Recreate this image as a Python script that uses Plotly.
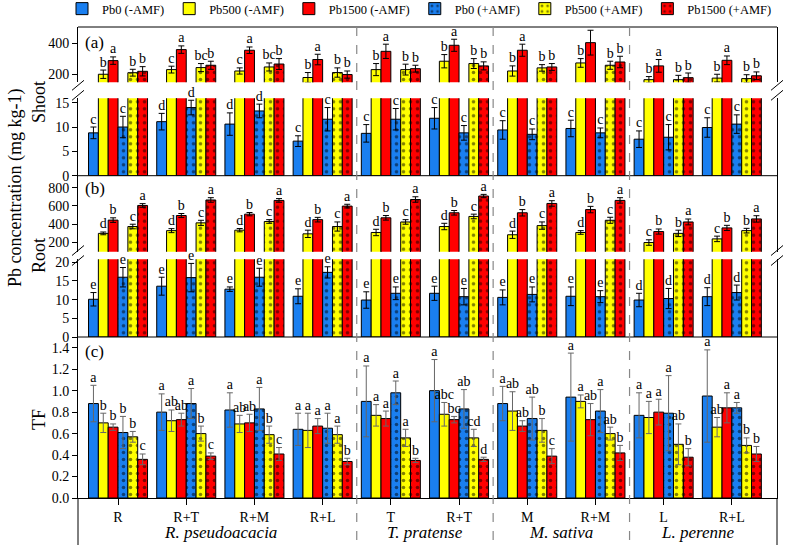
import plotly.graph_objects as go

# ---------------- data ----------------
groups = ["R", "R+T", "R+M", "R+L", "T", "R+T", "M", "R+M", "L", "R+L"]
species = ["<i>R. pseudoacacia</i>", "<i>T. pratense</i>", "<i>M. sativa</i>", "<i>L. perenne</i>"]
species_center = [1.5, 4.5, 6.5, 8.5]
separators = [3.5, 5.5, 7.5]
series_names = ["Pb0 (-AMF)", "Pb500 (-AMF)", "Pb1500 (-AMF)", "Pb0 (+AMF)", "Pb500 (+AMF)", "Pb1500 (+AMF)"]

# Shoot Pb concentration (mg kg-1)
shoot_pb0 = [8.8, 11.1, 10.6, 7.1, 8.7, 11.8, 9.4, 9.7, 7.5, 9.9]
shoot_pb0_err = [1.2, 1.7, 2.3, 1.1, 1.8, 2.2, 1.9, 1.7, 1.7, 2.0]
shoot_pb500 = [200, 230, 221, 179, 230, 284, 221, 273, 165, 175]
shoot_pb500_err = [27, 22, 20, 32, 39, 43, 33, 28, 20, 25]
shoot_pb1500 = [288, 359, 355, 295, 348, 387, 355, 404, 254, 290]
shoot_pb1500_err = [24, 24, 21, 34, 46, 39, 39, 80, 41, 28]
shoot_pb0a = [10.0, 14.0, 13.3, 11.6, 11.6, 8.8, 8.5, 8.8, 7.9, 10.6]
shoot_pb0a_err = [2.2, 1.5, 1.4, 2.4, 2.2, 1.5, 1.1, 1.0, 2.6, 1.9]
shoot_pb500a = [210, 243, 247, 211, 230, 269, 241, 258, 165, 172]
shoot_pb500a_err = [22, 26, 26, 30, 35, 32, 21, 26, 28, 25]
shoot_pb1500a = [219, 258, 266, 198, 236, 254, 247, 279, 178, 190]
shoot_pb1500a_err = [30, 26, 35, 23, 22, 26, 22, 37, 30, 25]

shoot_lo_letters_pb0 = ["c", "d", "d", "c", "c", "c", "c", "c", "c", "c"]
shoot_lo_letters_pb0a = ["c", "d", "d", "c", "c", "c", "c", "c", "c", "c"]
shoot_up_letters_pb500 = ["b", "c", "c", "b", "b", "b", "b", "b", "b", "b"]
shoot_up_letters_pb1500 = ["a", "a", "a", "a", "a", "a", "a", "a", "a", "a"]
shoot_up_letters_pb500a = ["b", "bc", "bc", "b", "b", "b", "b", "b", "b", "b"]
shoot_up_letters_pb1500a = ["b", "b", "b", "b", "b", "b", "b", "b", "b", "b"]

# Root Pb concentration (mg kg-1)
root_pb0 = [10.1, 13.6, 12.8, 10.9, 9.9, 11.7, 10.6, 10.9, 9.9, 10.8]
root_pb0_err = [1.8, 2.4, 0.6, 2.0, 2.2, 1.9, 2.0, 2.5, 1.8, 2.4]
root_pb500 = [300, 330, 335, 295, 310, 375, 285, 310, 200, 240]
root_pb500_err = [15, 22, 18, 40, 35, 35, 40, 20, 30, 30]
root_pb1500 = [445, 495, 510, 450, 470, 525, 525, 560, 320, 360]
root_pb1500_err = [25, 22, 18, 25, 25, 25, 35, 35, 28, 28]
root_pb0a = [16.0, 15.9, 16.0, 17.3, 11.7, 10.8, 11.4, 10.8, 10.3, 11.9]
root_pb0a_err = [2.6, 3.8, 2.4, 1.5, 1.7, 2.2, 2.0, 1.6, 2.7, 2.0]
root_pb500a = [375, 415, 430, 375, 425, 485, 385, 443, 300, 330]
root_pb500a_err = [25, 28, 20, 50, 25, 25, 40, 33, 35, 25]
root_pb1500a = [605, 665, 660, 598, 670, 708, 627, 660, 425, 458]
root_pb1500a_err = [20, 25, 20, 20, 30, 18, 30, 30, 32, 35]

root_lo_letters_pb0 = ["e", "e", "e", "e", "e", "e", "e", "e", "d", "d"]
root_lo_letters_pb0a = ["e", "e", "e", "e", "e", "e", "e", "e", "d", "d"]
root_up_letters_pb500 = ["d", "d", "d", "d", "d", "d", "d", "d", "c", "c"]
root_up_letters_pb1500 = ["b", "b", "b", "b", "b", "b", "b", "b", "b", "b"]
root_up_letters_pb500a = ["c", "c", "c", "c", "c", "c", "c", "c", "b", "b"]
root_up_letters_pb1500a = ["a", "a", "a", "a", "a", "a", "a", "a", "a", "a"]

# Translocation factor
tf_pb0 = [0.88, 0.80, 0.82, 0.64, 0.90, 1.00, 0.88, 0.94, 0.77, 0.95]
tf_pb0_err = [0.17, 0.17, 0.16, 0.15, 0.33, 0.29, 0.16, 0.41, 0.21, 0.43]
tf_pb500 = [0.70, 0.72, 0.69, 0.63, 0.77, 0.78, 0.81, 0.90, 0.75, 0.66]
tf_pb500_err = [0.09, 0.10, 0.08, 0.16, 0.10, 0.11, 0.18, 0.06, 0.15, 0.09]
tf_pb1500 = [0.66, 0.73, 0.70, 0.67, 0.74, 0.73, 0.67, 0.73, 0.80, 0.84]
tf_pb1500_err = [0.03, 0.06, 0.08, 0.07, 0.07, 0.03, 0.05, 0.15, 0.12, 0.14]
tf_pb0a = [0.61, 0.88, 0.83, 0.65, 0.98, 0.83, 0.74, 0.81, 0.79, 0.84]
tf_pb0a_err = [0.15, 0.14, 0.20, 0.14, 0.11, 0.18, 0.20, 0.20, 0.35, 0.05]
tf_pb500a = [0.57, 0.60, 0.59, 0.59, 0.56, 0.56, 0.63, 0.60, 0.50, 0.49]
tf_pb500a_err = [0.05, 0.07, 0.08, 0.08, 0.08, 0.08, 0.11, 0.06, 0.19, 0.07]
tf_pb1500a = [0.36, 0.39, 0.41, 0.34, 0.35, 0.36, 0.39, 0.42, 0.38, 0.41]
tf_pb1500a_err = [0.05, 0.03, 0.06, 0.03, 0.02, 0.02, 0.07, 0.07, 0.08, 0.07]

tf_letters_pb0 = ["a", "a", "a", "a", "a", "a", "a", "a", "a", "a"]
tf_letters_pb500 = ["b", "ab", "ab", "a", "a", "abc", "ab", "a", "a", "ab"]
tf_letters_pb1500 = ["b", "ab", "ab", "a", "a", "bc", "ab", "ab", "a", "a"]
tf_letters_pb0a = ["b", "a", "a", "a", "a", "ab", "ab", "a", "a", "a"]
tf_letters_pb500a = ["b", "b", "b", "a", "a", "cd", "b", "ab", "ab", "b"]
tf_letters_pb1500a = ["c", "c", "c", "b", "b", "d", "c", "b", "b", "b"]

# ---------------- style ----------------
FONT = "'Liberation Serif', 'Times New Roman', Times, 'DejaVu Serif', serif"
BLUE, YELLOW, RED = "#1a7ff0", "#ffff00", "#ff0000"
colors = [BLUE, YELLOW, RED, BLUE, YELLOW, RED]
patterned = [False, False, False, True, True, True]
BW = 0.1442
X0 = -0.4326

H_TOP, H_BOT = 27, 51
PLOT_H = 549 - H_TOP - H_BOT
L_M, R_M = 78, 10
PLOT_W = 787 - L_M - R_M


def py(px):
    return (549 - H_BOT - px) / PLOT_H


def pxx(px):
    return (px - L_M) / PLOT_W


xs = list(range(len(groups)))
fig = go.Figure()


def add_bar(vals, errs, k, yaxis, legend=False, errcolor="black", letters=None, clip=False):
    pat = dict(shape=".", fgcolor="black", bgcolor=colors[k], size=7, solidity=0.2) if patterned[k] else dict(shape="")
    fig.add_trace(go.Bar(
        x=xs, y=vals, width=BW, offset=X0 + BW * k, yaxis=yaxis, xaxis="x",
        name=series_names[k], showlegend=legend, legendrank=k,
        marker=dict(color=colors[k], line=dict(color="black", width=1), pattern=pat),
        error_y=dict(type="data", array=errs, visible=errs is not None, color=errcolor, thickness=1, width=3),
    ))
    if letters is not None:
        fig.add_trace(go.Scatter(
            x=[i + X0 + BW * (k + 0.5) for i in xs],
            y=[v + e for v, e in zip(vals, errs)],
            text=letters, mode="text", textposition="top center",
            textfont=dict(family=FONT, size=14, color="black"),
            yaxis=yaxis, xaxis="x", showlegend=False, cliponaxis=clip, hoverinfo="skip",
        ))


# TF panel (y)
tf_sets = [(tf_pb0, tf_pb0_err, tf_letters_pb0), (tf_pb500, tf_pb500_err, tf_letters_pb500),
           (tf_pb1500, tf_pb1500_err, tf_letters_pb1500), (tf_pb0a, tf_pb0a_err, tf_letters_pb0a),
           (tf_pb500a, tf_pb500a_err, tf_letters_pb500a), (tf_pb1500a, tf_pb1500a_err, tf_letters_pb1500a)]
for k, (v, e, l) in enumerate(tf_sets):
    add_bar(v, e, k, "y", legend=True, errcolor="#666666", letters=l)

# Root lower (y2) / upper (y3)
add_bar(root_pb0, root_pb0_err, 0, "y2", letters=root_lo_letters_pb0)
add_bar(root_pb500, None, 1, "y2")
add_bar(root_pb1500, None, 2, "y2")
add_bar(root_pb0a, root_pb0a_err, 3, "y2", letters=root_lo_letters_pb0a)
add_bar(root_pb500a, None, 4, "y2")
add_bar(root_pb1500a, None, 5, "y2")
add_bar(root_pb500, root_pb500_err, 1, "y3", letters=root_up_letters_pb500)
add_bar(root_pb1500, root_pb1500_err, 2, "y3", letters=root_up_letters_pb1500)
add_bar(root_pb500a, root_pb500a_err, 4, "y3", letters=root_up_letters_pb500a)
add_bar(root_pb1500a, root_pb1500a_err, 5, "y3", letters=root_up_letters_pb1500a)

# Shoot lower (y4) / upper (y5)
add_bar(shoot_pb0, shoot_pb0_err, 0, "y4", letters=shoot_lo_letters_pb0)
add_bar(shoot_pb500, None, 1, "y4")
add_bar(shoot_pb1500, None, 2, "y4")
add_bar(shoot_pb0a, shoot_pb0a_err, 3, "y4", letters=shoot_lo_letters_pb0a)
add_bar(shoot_pb500a, None, 4, "y4")
add_bar(shoot_pb1500a, None, 5, "y4")
add_bar(shoot_pb500, shoot_pb500_err, 1, "y5", letters=shoot_up_letters_pb500)
add_bar(shoot_pb1500, shoot_pb1500_err, 2, "y5", letters=shoot_up_letters_pb1500, clip=True)
add_bar(shoot_pb500a, shoot_pb500a_err, 4, "y5", letters=shoot_up_letters_pb500a)
add_bar(shoot_pb1500a, shoot_pb1500a_err, 5, "y5", letters=shoot_up_letters_pb1500a)

yax = dict(showline=True, linecolor="black", linewidth=1, mirror=True, ticks="outside", ticklen=5,
           tickcolor="black", showgrid=False, zeroline=False, anchor="x",
           tickfont=dict(family=FONT, size=14, color="black"))

fig.update_layout(
    width=787, height=549,
    margin=dict(l=L_M, r=R_M, t=H_TOP, b=H_BOT, autoexpand=False),
    paper_bgcolor="white", plot_bgcolor="white",
    barmode="overlay",
    font=dict(family=FONT, color="black"),
    xaxis=dict(domain=[0, 1], range=[-0.587, 9.662], tickvals=xs, ticktext=groups, ticks="outside",
               ticklen=6, tickcolor="black", showline=True, linecolor="black", showgrid=False,
               zeroline=False, anchor="y", tickfont=dict(family=FONT, size=14, color="black")),
    yaxis=dict(yax, domain=[0, py(337)], range=[0, 1.5],
               tickvals=[0, 0.2, 0.4, 0.6, 0.8, 1.0, 1.2, 1.4], tickformat=".1f"),
    yaxis2=dict(yax, domain=[py(337), py(259.3)], range=[0, 20.8], tickvals=[0, 5, 10, 15, 20]),
    yaxis3=dict(yax, domain=[py(251.7), py(175.7)], range=[100, 930], tickvals=[200, 400, 600, 800]),
    yaxis4=dict(yax, domain=[py(175.7), py(98.3)], range=[0, 15.9], tickvals=[0, 5, 10, 15]),
    yaxis5=dict(yax, domain=[py(82.3), 1], range=[148, 505], tickvals=[200, 400]),
    legend=dict(orientation="h", x=pxx(62), xanchor="left", y=py(9), yanchor="middle",
                font=dict(family=FONT, size=12.5), itemwidth=30, traceorder="normal",
                bgcolor="rgba(0,0,0,0)"),
    showlegend=True,
)

shapes = []
for p in [27, 175.7, 337]:
    shapes.append(dict(type="line", xref="paper", yref="paper", x0=0, x1=1, y0=py(p), y1=py(p),
                       line=dict(color="black", width=1)))
for s in separators:
    shapes.append(dict(type="line", xref="x", yref="paper", x0=s, x1=s, y0=1, y1=py(545),
                       line=dict(color="#888888", width=1.2, dash="dash")))
for xp in [0, 1]:
    shapes.append(dict(type="line", xref="paper", yref="paper", x0=xp, x1=xp, y0=0, y1=py(545),
                       line=dict(color="black", width=1)))
for yc in [90.3, 255.5]:
    for xpix in [78, 777]:
        for dy in [-5, 5]:
            shapes.append(dict(type="line", xref="paper", yref="paper",
                               x0=pxx(xpix - 6), x1=pxx(xpix + 6),
                               y0=py(yc + dy + 5), y1=py(yc + dy - 5),
                               line=dict(color="black", width=1)))
fig.update_layout(shapes=shapes)

ann = []
for lab, p in [("(a)", 42), ("(b)", 188), ("(c)", 351)]:
    ann.append(dict(text=lab, xref="paper", yref="paper", x=pxx(83), y=py(p), xanchor="left",
                    yanchor="middle", showarrow=False, font=dict(family=FONT, size=17)))
for name, c in zip(species, species_center):
    ann.append(dict(text=name, xref="x", yref="paper", x=c, y=py(532), xanchor="center",
                    yanchor="middle", showarrow=False, font=dict(family=FONT, size=17)))
ann.append(dict(text="Pb concentration (mg kg-1)", xref="paper", yref="paper", x=pxx(15), y=py(188),
                textangle=-90, showarrow=False, xanchor="center", yanchor="middle",
                font=dict(family=FONT, size=18)))
for lab, p in [("Shoot", 102), ("Root", 256), ("TF", 420)]:
    ann.append(dict(text=lab, xref="paper", yref="paper", x=pxx(39), y=py(p), textangle=-90,
                    showarrow=False, xanchor="center", yanchor="middle", font=dict(family=FONT, size=18)))
fig.update_layout(annotations=ann)

fig.write_html("out.html", config={"displayModeBar": False},
               post_script="document.body.style.margin='0';")
